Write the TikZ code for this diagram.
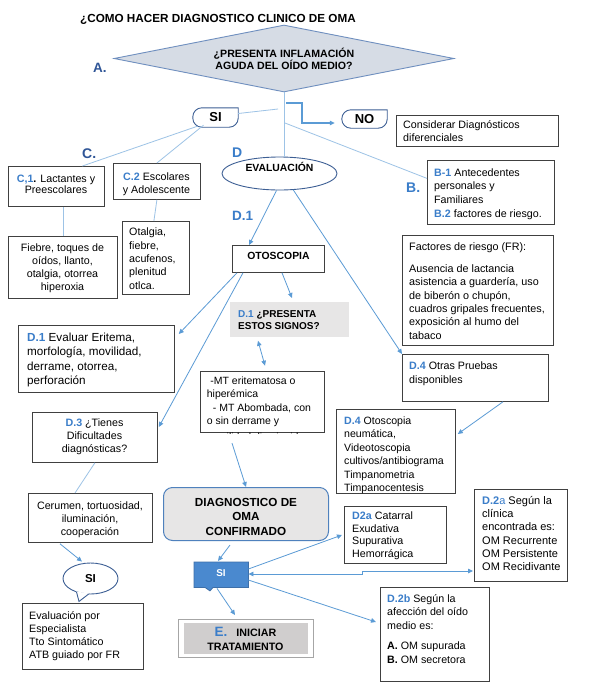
\documentclass[tikz,border=0pt]{standalone}
\usepackage{fontspec}
\setmainfont{Liberation Sans}
\usetikzlibrary{shapes.geometric,arrows.meta}
\definecolor{darkblue}{HTML}{2F5597}
\definecolor{midblue}{HTML}{3A7DC9}
\definecolor{lineblue}{HTML}{9DC3E6}
\definecolor{arrowblue}{HTML}{5B9BD5}
\definecolor{boxgray}{HTML}{404040}
\definecolor{diafill}{HTML}{D6DCE5}
\definecolor{diaedge}{HTML}{6F8FBF}
\definecolor{bubedge}{HTML}{3D5F94}
\definecolor{lightfill}{HTML}{E7E6E6}
\definecolor{inifill}{HTML}{D0CECE}
\definecolor{iniedge}{HTML}{A6A6A6}
\definecolor{sifill}{HTML}{4A89CF}
\definecolor{siedge}{HTML}{3E6FA8}
\definecolor{diagedge}{HTML}{4F81BD}
\newcommand\fs{\fontsize{10.7}{13.3}\selectfont}
\newcommand\fsz[2]{\fontsize{#1}{#2}\selectfont}
\newcommand\cd[1]{\textcolor{midblue}{\textbf{#1}}}
\newcommand\st{\rule{0pt}{10pt}}
\newcommand\bubblepath[1]{\draw[bub] (#1.north) -- (#1.north east) [rounded corners=9pt] -- (#1.south east) -- (#1.south west) -- (#1.north west) -- (#1.north);}
\tikzset{
 box/.style={draw=boxgray, line width=0.8pt, inner sep=0pt, anchor=north west},
 txt/.style={inner sep=0pt, anchor=north west, align=left, font=\fs},
 ctxt/.style={inner sep=0pt, anchor=north, align=center, font=\fs},
 ln/.style={draw=lineblue, line width=0.8pt},
 arr/.style={draw=arrowblue, line width=0.8pt, -{Triangle[length=5pt,width=4.5pt]}},
 darr/.style={draw=arrowblue, line width=0.8pt, {Triangle[length=5pt,width=4.5pt]}-{Triangle[length=5pt,width=4.5pt]}},
 big/.style={inner sep=0pt, anchor=base west, font=\bfseries\fsz{14}{16}},
 bub/.style={draw=bubedge, line width=0.9pt},
}
\begin{document}
\begin{tikzpicture}[x=1pt,y=-1pt]
\fill[white] (0,0) rectangle (589,689);
\useasboundingbox (0,0) rectangle (589,689);

% title
\node[inner sep=0pt, anchor=base west, font=\bfseries\fsz{11.7}{14}] (title) at (80,22.5) {¿COMO HACER DIAGNOSTICO CLINICO DE OMA};

% diamond
\node[diamond, draw=diaedge, fill=diafill, line width=0.9pt, minimum width=340, minimum height=67, inner sep=0pt, aspect=5, align=center, font=\bfseries\fsz{10.6}{11.8}] (q) at (284,58.5) {¿PRESENTA INFLAMACIÓN\\AGUDA DEL OÍDO MEDIO?};
\node[big, text=darkblue, font=\bfseries\fsz{13.5}{16}] (la) at (93,72) {A.};

% SI / NO bubbles
\node[minimum width=45, minimum height=19, inner sep=0pt, font=\bfseries\fsz{13}{15}] (si1) at (215.5,117.5) {SI};
\bubblepath{si1}
\node[minimum width=45, minimum height=18, inner sep=0pt, font=\bfseries\fsz{13}{15}] (no) at (364.5,119) {NO};
\bubblepath{no}

% EVALUACION
\node[ellipse, draw=bubedge, line width=0.9pt, minimum width=115, minimum height=33, inner sep=0pt] (eval) at (279.5,173.5) {};
\node[inner sep=0pt, anchor=base, font=\bfseries\fsz{10.4}{12}] (evalt) at (279.5,171.5) {EVALUACIÓN};

\coordinate (jsi) at (278,109);
\coordinate (jno) at (286,103);
\coordinate (jb) at (285,123);

% big labels
\node[big, text=darkblue] (lc) at (82,158.3) {C.};
\node[big, text=midblue] (ld) at (232,157.3) {D};
\node[big, text=midblue, font=\bfseries\fsz{13.5}{16}] (ld1) at (232,220.7) {D.1};
\node[big, text=midblue] (lb) at (406,192.7) {B.};

% C boxes
\node[box, minimum width=96, minimum height=40] (c1) at (8,166) {};
\node[ctxt, font=\fsz{10.7}{11.7}] (c1t) at (56,172) {\st\cd{C,1}\textbf{.} Lactantes y\\Preescolares};
\node[box, minimum width=87, minimum height=36] (c2) at (113,163) {};
\node[ctxt, font=\fsz{10.7}{12.6}] (c2t) at (156.5,170.7) {\st\cd{C.2} Escolares\\y Adolescente};
\node[box, minimum width=109, minimum height=62] (fie) at (8,236) {};
\node[ctxt, font=\fsz{10.7}{13}] (fiet) at (62.5,241) {\st Fiebre, toques de\\oídos, llanto,\\otalgia, otorrea\\hiperoxia};
\node[box, minimum width=67, minimum height=73] (ota) at (122,221) {};
\node[txt] (otat) at (129,225.7) {\st Otalgia,\\fiebre,\\acufenos,\\plenitud\\otlca.};

% right column top
\node[box, minimum width=162, minimum height=31] (cons) at (396,115) {};
\node[txt, font=\fsz{10.7}{13}] (const) at (403,118.5) {\st Considerar Diagnósticos\\diferenciales};
\node[box, minimum width=127, minimum height=64] (bb) at (427,160) {};
\node[txt, font=\fsz{10.7}{13.7}] (bbt) at (434,166) {\st\cd{B-1} Antecedentes\\personales y\\Familiares\\\cd{B.2} factores de riesgo.};
\node[box, minimum width=151, minimum height=110] (fr) at (402,235) {};
\node[txt, font=\fsz{10.8}{13.3}] (frt) at (409,240.7) {\st Factores de riesgo (FR):\\[8.3pt]Ausencia de lactancia\\asistencia a guardería, uso\\de biberón o chupón,\\cuadros gripales frecuentes,\\exposición al humo del\\tabaco};

% OTOSCOPIA
\node[box, minimum width=92, minimum height=27] (oto) at (232,245) {};
\node[inner sep=0pt, anchor=base, font=\bfseries\fsz{10.4}{12}] (otot) at (278.5,259.3) {OTOSCOPIA};

% signos
\node[box, draw=none, fill=lightfill, minimum width=119, minimum height=35] (sig) at (230,302) {};
\node[txt, font=\bfseries\fsz{10}{12.4}] (sigt) at (238,307.3) {\st\textcolor{midblue}{D.1} ¿PRESENTA\\ESTOS SIGNOS?};

% MT box (text clipped)
\node[box, minimum width=124, minimum height=61.6] (mt) at (200,370.7) {};
\begin{scope}
\clip (mt.north west) rectangle (mt.south east);
\node[txt, font=\fsz{10.5}{13.4}] (mtt) at (206.7,374) {\st\hspace{3.5pt}-MT eritematosa o\\hiperémica\\\hspace{6pt}- MT Abombada, con\\o sin derrame y\\[3pt]movilidad disminuida};
\end{scope}

% D.4 boxes
\node[box, minimum width=146, minimum height=47] (d4o) at (402,354) {};
\node[txt, font=\fsz{10.7}{14}] (d4ot) at (409,359) {\st\cd{D.4} Otras Pruebas\\disponibles};
\node[box, minimum width=119, minimum height=84] (d4t) at (336,409) {};
\node[txt, font=\fsz{10.6}{13.45}] (d4tt) at (344,414) {\st\cd{D.4} Otoscopia\\neumática,\\Videotoscopia\\cultivos/antibiograma\\Timpanometria\\Timpanocentesis};

% left column
\node[box, minimum width=156, minimum height=67] (ev) at (18,325) {};
\node[txt, font=\fsz{11.7}{14.4}] (evt) at (27,331) {\st\cd{D.1} Evaluar Eritema,\\morfología, movilidad,\\derrame, otorrea,\\perforación};
\node[box, minimum width=125, minimum height=50] (d3) at (32,412) {};
\node[ctxt, font=\fsz{10.7}{13}] (d3t) at (94.5,416.3) {\st\cd{D.3} ¿Tienes\\Dificultades\\diagnósticas?};
\node[box, minimum width=124, minimum height=49] (cer) at (28,493) {};
\node[ctxt, font=\fsz{10.7}{12.9}] (cert) at (90,499) {\st Cerumen, tortuosidad,\\iluminación,\\cooperación};

% SI bubble (bottom left)
\node[ellipse, draw=bubedge, fill=white, line width=0.9pt, minimum width=55, minimum height=31, inner sep=0pt, font=\bfseries\fsz{11.5}{13}] (si2) at (90.5,578.5) {SI};
\fill[white] ([shift={(-14.5,-3)}]si2.south) -- ([shift={(-11.5,7)}]si2.south) -- ([shift={(-1.5,-1)}]si2.south) -- cycle;
\draw[bub] ([shift={(-14,-2.5)}]si2.south) -- ([shift={(-11.5,7)}]si2.south) -- ([shift={(-2,-0.3)}]si2.south);

\node[box, minimum width=121, minimum height=66] (evs) at (22,603) {};
\node[txt, font=\fsz{10.7}{13.1}] (evst) at (29,609) {\st Evaluación por\\Especialista\\Tto Sintomático\\ATB guiado por FR};

% diagnostico
\node[box, draw=diagedge, fill=lightfill, line width=1pt, rounded corners=9pt, minimum width=165, minimum height=53] (diag) at (163,487) {};
\node[ctxt, font=\bfseries\fsz{11.7}{14.5}] (diagt) at (246,496) {\st DIAGNOSTICO DE\\OMA\\CONFIRMADO};

% blue SI box
\node[inner sep=0pt, anchor=north west, minimum width=54, minimum height=25] (sib) at (194,562) {};
\filldraw[fill=sifill, draw=siedge, line width=0.8pt] (sib.north west) -- (sib.north east) -- (sib.south east) -- ([shift={(19,0)}]sib.south west) -- ([shift={(16,3.5)}]sib.south west) -- ([shift={(11,0)}]sib.south west) -- (sib.south west) -- cycle;
\node[inner sep=0pt, text=white, font=\bfseries\fsz{9.9}{12}] (sibt) at (221,573) {SI};

% iniciar
\node[box, draw=iniedge, minimum width=135, minimum height=38] (ini) at (178,619) {};
\fill[inifill] ([shift={(6,4)}]ini.north west) rectangle ([shift={(-6,-4)}]ini.south east);
\node[ctxt, font=\bfseries\fsz{10.7}{13.5}] (init) at (245.5,626.5) {\st{\textcolor{midblue}{\fsz{13.5}{14}E.}}\hspace{9pt}INICIAR\\TRATAMIENTO};

% D2 boxes
\node[box, minimum width=102, minimum height=57] (d2a) at (344,506) {};
\node[txt, font=\fsz{10.7}{12.8}] (d2at) at (352,509) {\st\cd{D2a} Catarral\\Exudativa\\Supurativa\\Hemorrágica};
\node[box, minimum width=93, minimum height=92] (d2r) at (474,489) {};
\node[txt, font=\fsz{11}{13.35}] (d2rt) at (482,494) {\st\textcolor{midblue}{\textbf{D.2}a} Según la\\clínica\\encontrada es:\\OM Recurrente\\OM Persistente\\OM Recidivante};
\node[box, minimum width=109, minimum height=94] (d2b) at (380,587) {};
\node[txt, font=\fsz{10.7}{13.35}] (d2bt) at (387,592.3) {\st\cd{D.2b} Según la\\afección del oído\\medio es:\\[7.3pt]\textbf{A.} OM supurada\\\textbf{B.} OM secretora};

% connectors
\draw[ln] (q.south) -- (q.south |- eval.north);
\draw[ln] (jsi) -- ([shift={(0,-4)}]si1.east);
\draw[arr, line width=1.1pt] (jno) -- ++(16,0) |- ([shift={(-7,4)}]no.west);
\draw[ln] (jb) -- ([shift={(0,-14)}]bb.west);
\draw[ln] ([shift={(-18,-1)}]si1.south) -- ([shift={(26,0)}]c1.north);
\draw[ln] ([shift={(-12,-2)}]si1.south) -- (c2.north);
\draw[ln] ([shift={(7,0)}]c1.south) -- ([shift={(7,0)}]c1.south |- fie.north);
\draw[ln] (c2.south) -- ([shift={(-2,0)}]ota.north);
\draw[arr] ([shift={(-3,0)}]eval.south) -- ([shift={(17,0)}]oto.north west);
\draw[arr] (eval.-50) -- (d4o.north west);
\draw[arr] ([shift={(50,0)}]oto.south west) -- ([shift={(62,-4)}]sig.north west);
\draw[arr] ([shift={(5,0)}]oto.south west) -- ([shift={(4,9)}]ev.north east);
\draw[arr] ([shift={(11,0)}]oto.south west) -- ([shift={(1,15)}]d3.north east);
\draw[darr] ([shift={(28,3)}]sig.south west) -- ([shift={(65,-5)}]mt.north west);
\draw[arr] ([shift={(32,10)}]mt.south west) -- ([shift={(83,0)}]diag.north west);
\draw[arr] ([shift={(101,0)}]d4o.south west) -- ([shift={(2,25)}]d4t.north east);
\draw[ln] (d3.south) -- ([shift={(47,0)}]cer.north west);
\draw[arr] ([shift={(32,1)}]cer.south west) -- ([shift={(-8.5,-1)}]si2.north);
\draw[arr] ([shift={(67,4)}]diag.south west) -- ([shift={(24,-1)}]sib.north west);
\draw[arr] ([shift={(23,1)}]sib.south west) -- ([shift={(57,-4)}]ini.north west);
\draw[arr] ([shift={(0,7)}]sib.north east) -- ([shift={(-2,29)}]d2a.north west);
\draw[darr] ([shift={(0,12)}]sib.north east) -- ++(114,0) -- ++(0,-3) -- ([shift={(-1,82)}]d2r.north west);
\draw[arr] ([shift={(0,18)}]sib.north east) -- ([shift={(-4,35)}]d2b.north west);
\end{tikzpicture}
\end{document}
